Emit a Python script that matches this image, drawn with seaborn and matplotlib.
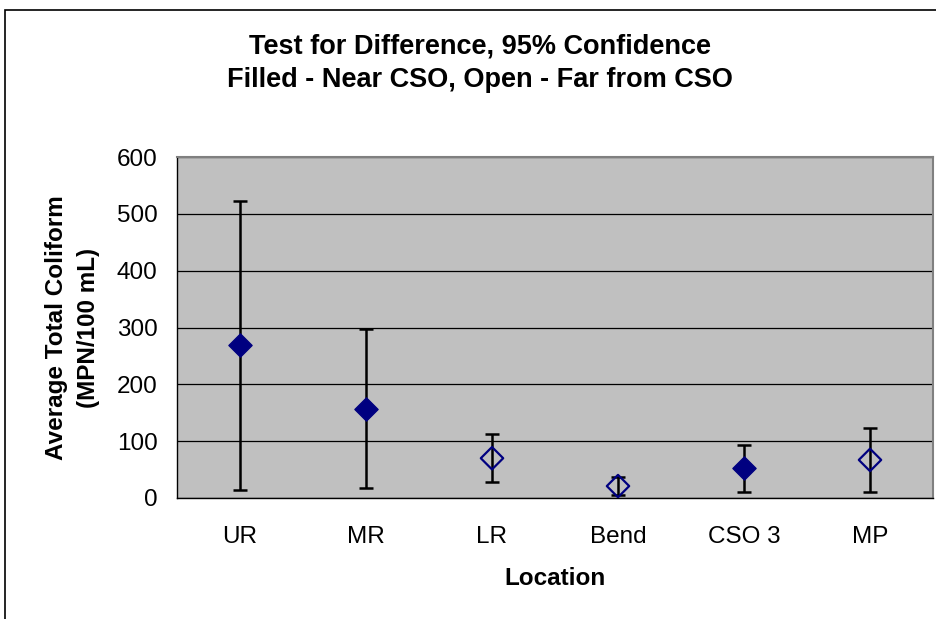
import matplotlib
matplotlib.use("Agg")
import matplotlib.pyplot as plt
from matplotlib.patches import Rectangle
import seaborn as sns
import numpy as np
import pandas as pd

# --- Data ---
locations = ["UR", "MR", "LR", "Bend", "CSO 3", "MP"]
mean_tc = [269, 157, 70, 21, 52, 67]
lower_ci = [14, 17, 29, 5, 10, 11]
upper_ci = [523, 297, 113, 37, 93, 123]
near_cso = [True, True, False, False, True, False]

df = pd.DataFrame({"pos": np.arange(len(locations)), "loc": locations,
                   "mean": mean_tc, "lo": lower_ci, "hi": upper_ci, "near": near_cso})

sns.set_style("white")
plt.rcParams["font.family"] = ["Liberation Sans", "DejaVu Sans"]
plt.rcParams["text.color"] = "black"
plt.rcParams["axes.labelcolor"] = "black"
plt.rcParams["xtick.color"] = "black"
plt.rcParams["ytick.color"] = "black"

fig = plt.figure(figsize=(9.36, 6.19), dpi=100)
ax = fig.add_axes([177 / 936, 121 / 619, 756 / 936, 341 / 619])
ax.set_facecolor("#C0C0C0")

# error bars
ax.errorbar(df["pos"], df["mean"],
            yerr=[df["mean"] - df["lo"], df["hi"] - df["mean"]],
            fmt="none", ecolor="black", elinewidth=1.8, capsize=5, capthick=1.8, zorder=2)

filled = df[df["near"]]
opened = df[~df["near"]]
sns.scatterplot(data=filled, x="pos", y="mean", marker="D", color="#000080",
                edgecolor="#000080", s=140, ax=ax, zorder=3)
sns.scatterplot(data=opened, x="pos", y="mean", marker="D", facecolor="none",
                edgecolor="#000080", linewidth=1.6, s=130, ax=ax, zorder=3)

ax.set_xlim(-0.5, len(locations) - 0.5)
ax.set_ylim(0, 600)
ax.set_yticks(range(0, 601, 100))
ax.set_xticks(df["pos"])
ax.set_xticklabels(locations)
ax.set_xticks(np.arange(0.5, len(locations) - 0.5, 1.0), minor=True)
ax.yaxis.grid(True, color="black", linewidth=0.9)
ax.set_axisbelow(True)
ax.tick_params(axis="x", which="major", length=0, labelsize=17.5, pad=20)
ax.tick_params(axis="x", which="minor", length=7, width=1, color="black", direction="out")
ax.tick_params(axis="y", length=7, width=1, color="black", direction="out", labelsize=17.5, pad=7)

for s in ["left", "bottom"]:
    ax.spines[s].set_color("black")
    ax.spines[s].set_linewidth(1)
for s in ["top", "right"]:
    ax.spines[s].set_color("#808080")
    ax.spines[s].set_linewidth(1.5)

ax.set_xlabel("Location", fontsize=17.5, fontweight="bold", labelpad=14)
ax.set_ylabel("Average Total Coliform\n(MPN/100 mL)", fontsize=17.5, fontweight="bold",
              labelpad=12, linespacing=1.5)

fig.text(480 / 936, 1 - 46 / 619, "Test for Difference, 95% Confidence",
         ha="center", va="center", fontsize=19.5, fontweight="bold")
fig.text(480 / 936, 1 - 80 / 619, "Filled - Near CSO, Open - Far from CSO",
         ha="center", va="center", fontsize=19.5, fontweight="bold")

# chart border
fig.patches.append(Rectangle((5 / 936, -0.1), 1.0, 1 - 10 / 619 + 0.1, transform=fig.transFigure,
                             fill=False, edgecolor="black", linewidth=1.2))

fig.savefig("out.png", dpi=100)
